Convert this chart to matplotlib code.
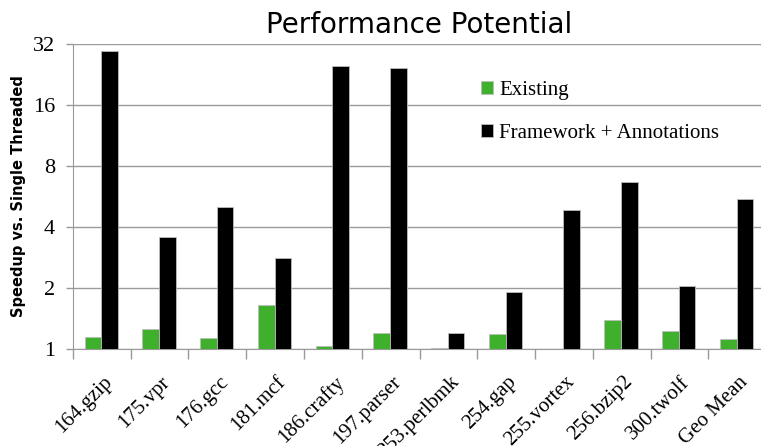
import numpy as np
import matplotlib.pyplot as plt
from matplotlib.ticker import FixedLocator, NullLocator

benchmarks = ["164.gzip", "175.vpr", "176.gcc", "181.mcf", "186.crafty", "197.parser",
              "253.perlbmk", "254.gap", "255.vortex", "256.bzip2", "300.twolf", "Geo Mean"]
existing   = [1.15, 1.26, 1.13, 1.64, 1.03, 1.20, 1.01, 1.19, 1.00, 1.39, 1.22, 1.12]
framework  = [29.5, 3.56, 5.02, 2.81, 24.9, 24.4, 1.20, 1.92, 4.87, 6.64, 2.05, 5.48]
y_ticks    = [1, 2, 4, 8, 16, 32]

GREEN = "#3fb02b"
GRID  = "#9a9a9a"

fig = plt.figure(figsize=(7.61, 4.46), dpi=100)
ax = fig.add_axes([0.0959, 0.2175, 0.9107, 0.6839])

x = np.arange(len(benchmarks))
w = 0.287
ax.bar(x - w/2 - 0.01, existing, w, color=GREEN, edgecolor="#bcbcbc", linewidth=0.6,
       label="Existing", zorder=3)
ax.bar(x + w/2 - 0.01, framework, w, color="black", edgecolor="#bcbcbc", linewidth=0.6,
       label="Framework + Annotations", zorder=3)

ax.set_yscale("log", base=2)
ax.set_ylim(1, 32)
ax.yaxis.set_major_locator(FixedLocator(y_ticks))
ax.yaxis.set_minor_locator(NullLocator())
ax.set_yticklabels([str(t) for t in y_ticks], fontfamily="Liberation Serif", fontsize=16)
ax.grid(axis="y", color=GRID, linewidth=1.0, zorder=0)

# category boundaries get the tick marks, names sit under the centres
ax.set_xlim(-0.5, len(benchmarks) - 0.5)
ax.set_xticks(np.arange(len(benchmarks) + 1) - 0.5)
ax.set_xticklabels([])
ax.set_xticks(x + 0.02, minor=True)
ax.set_xticklabels(benchmarks, minor=True, rotation=45, ha="right", rotation_mode="anchor",
                   fontfamily="Liberation Serif", fontsize=15)
ax.tick_params(axis="x", which="minor", length=0, pad=17)
ax.tick_params(axis="x", which="major", length=7, color=GRID, width=1)
ax.tick_params(axis="y", length=5, color=GRID, width=1, pad=8)

for s in ["top", "right"]:
    ax.spines[s].set_visible(False)
ax.spines["left"].set_color(GRID)
ax.spines["bottom"].set_color(GRID)

ax.set_ylabel("Speedup vs. Single Threaded", fontsize=10.5, fontweight="bold", labelpad=5)
ax.set_title("Performance Potential", fontsize=20, pad=8)

leg = ax.legend(loc="upper left", bbox_to_anchor=(0.561, 0.94), frameon=False,
                prop={"family": "Liberation Serif", "size": 15},
                handlelength=0.6, handleheight=0.6, handletextpad=0.3, labelspacing=1.15)

fig.savefig("out.png", dpi=100)
